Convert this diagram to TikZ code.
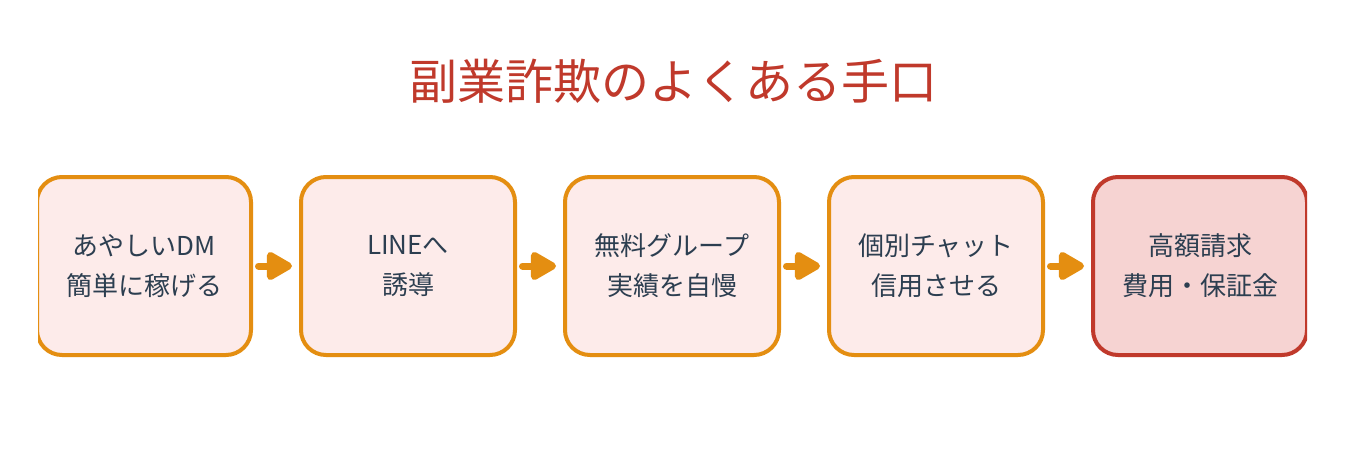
\documentclass[tikz,border=0pt]{standalone}
\usepackage{fontspec}
\setmainfont{Noto Sans CJK JP}
\newfontfamily\jpfont{Noto Sans CJK JP}
\usetikzlibrary{arrows.meta}
\definecolor{orng}{HTML}{E48E11}
\definecolor{pinkfill}{HTML}{FDEBEA}
\definecolor{redc}{HTML}{C0392B}
\definecolor{redfill}{HTML}{F6D3D2}
\definecolor{txt}{HTML}{2C3E50}
\tikzset{
  stepbox/.style={draw=orng, fill=pinkfill, line width=4pt, rounded corners=25pt,
    minimum width=214pt, minimum height=178pt, align=center, text=txt,
    font=\jpfont\fontsize{26}{40}\selectfont, inner sep=0pt},
  finalbox/.style={stepbox, draw=redc, fill=redfill},
  flowarrow/.style={draw=orng, line width=7pt, line cap=round,
    -{Triangle[length=29pt,width=31pt,round]}}
}
\begin{document}
\begin{tikzpicture}[x=1pt,y=1pt]
\useasboundingbox (0,0) rectangle (1345,-456);
\fill[white] (0,0) rectangle (1345,-456);
\node[text=redc, font=\jpfont\fontsize{48}{56}\selectfont] (title) at (673,-81) {副業詐欺のよくある手口};
\begin{scope}
\clip (38,0) rectangle (1307,-456);
\node[stepbox] (b1) at (144,-266) {あやしいDM\\簡単に稼げる};
\node[stepbox] (b2) at (408,-266) {LINEへ\\誘導};
\node[stepbox] (b3) at (672,-266) {無料グループ\\実績を自慢};
\node[stepbox] (b4) at (936,-266) {個別チャット\\信用させる};
\node[finalbox] (b5) at (1200,-266) {高額請求\\費用・保証金};
\end{scope}
\draw[flowarrow] ([xshift=5.5pt]b1.east) -- ([xshift=-7pt]b2.west);
\draw[flowarrow] ([xshift=5.5pt]b2.east) -- ([xshift=-7pt]b3.west);
\draw[flowarrow] ([xshift=5.5pt]b3.east) -- ([xshift=-7pt]b4.west);
\draw[flowarrow] ([xshift=5.5pt]b4.east) -- ([xshift=-7pt]b5.west);
\end{tikzpicture}
\end{document}
